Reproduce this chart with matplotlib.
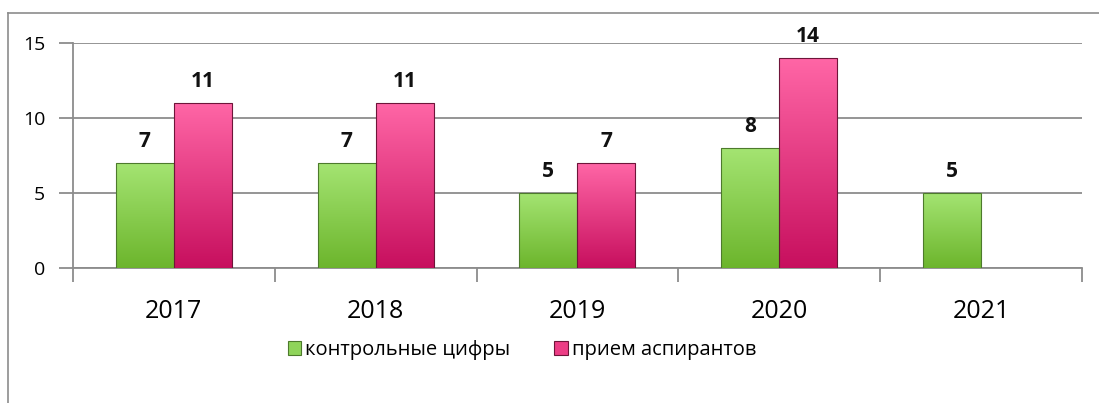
import numpy as np
import matplotlib.pyplot as plt
from matplotlib.colors import LinearSegmentedColormap
from matplotlib.patches import Patch
from matplotlib.lines import Line2D

years = ['2017', '2018', '2019', '2020', '2021']
kontrol = [7, 7, 5, 8, 5]
priem = [11, 11, 7, 14, None]
series_names = ['контрольные цифры', 'прием аспирантов']

plt.rcParams['font.family'] = ['Open Sans', 'DejaVu Sans']

green_cm = LinearSegmentedColormap.from_list('g', ['#6cb52c', '#a4e472'])
pink_cm = LinearSegmentedColormap.from_list('p', ['#c70f5e', '#ff66a6'])
grad = np.linspace(0, 1, 256).reshape(-1, 1)

fig = plt.figure(figsize=(10.99, 4.03), dpi=100)
ax = fig.add_axes([0.0664, 0.335, 0.918, 0.558])

# outer chart frame (top and left edges)
fig.add_artist(Line2D([8/1099, 8/1099], [0, 1 - 13/403], color='#8c8c8c', lw=1.2, transform=fig.transFigure))
fig.add_artist(Line2D([8/1099, 1], [1 - 13/403, 1 - 13/403], color='#8c8c8c', lw=1.2, transform=fig.transFigure))

x = np.arange(len(years))
w = 0.2875


def gradient_bars(xs, vals, cmap, edge):
    for xi, v in zip(xs, vals):
        if v is None:
            continue
        b = ax.bar(xi, v, w, color='none', edgecolor=edge, lw=0.8, zorder=4)[0]
        im = ax.imshow(grad, cmap=cmap, origin='lower', aspect='auto',
                       extent=[xi - w/2, xi + w/2, 0, v], zorder=3)
        im.set_clip_path(b)
        ax.annotate(str(v), (xi, v), xytext=(0, 8), textcoords='offset points',
                    ha='center', va='bottom', fontsize=15, fontweight='bold',
                    color='#111111', zorder=5)


gradient_bars(x - w/2, kontrol, green_cm, '#4d7a2c')
gradient_bars(x + w/2, priem, pink_cm, '#6e1539')

ax.set_xlim(-0.5, 4.5)
ax.set_ylim(0, 15)
ax.set_yticks([0, 5, 10, 15])
ax.grid(axis='y', color='#8c8c8c', lw=1.3, zorder=1)
ax.set_axisbelow(True)

ax.set_xticks(np.arange(-0.5, 5, 1))
ax.set_xticklabels([])
ax.set_xticks(x, minor=True)
ax.set_xticklabels(years, minor=True, fontsize=18)
ax.tick_params(axis='x', which='minor', length=0, pad=22)
ax.tick_params(axis='x', which='major', length=10, color='#8c8c8c', width=1.3)
ax.tick_params(axis='y', length=10, color='#8c8c8c', width=1.3, labelsize=14, pad=10)

for s in ['top', 'right']:
    ax.spines[s].set_visible(False)
for s in ['left', 'bottom']:
    ax.spines[s].set_color('#8c8c8c')
    ax.spines[s].set_linewidth(1.3)

handles = [Patch(facecolor='#8fd45a', edgecolor='#4d7a2c', lw=0.8),
           Patch(facecolor='#ec3d85', edgecolor='#6e1539', lw=0.8)]
fig.legend(handles, series_names, loc='center', bbox_to_anchor=(0.475, 1 - 350/403),
           ncol=2, frameon=False, fontsize=14.5, handlelength=0.65, handleheight=0.65,
           handletextpad=0.2, columnspacing=2.2)

fig.savefig('out.png', dpi=100)
